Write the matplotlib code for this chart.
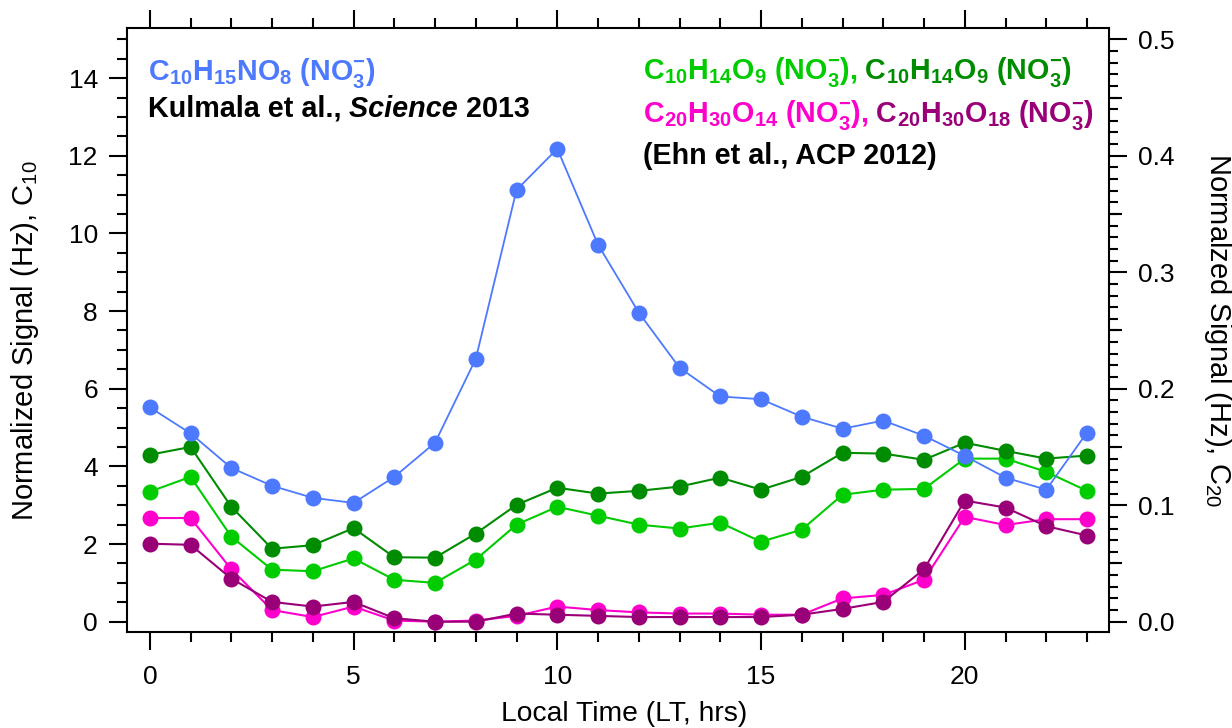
import matplotlib
matplotlib.use("Agg")
import matplotlib.pyplot as plt
from matplotlib.ticker import MultipleLocator, FixedLocator, NullFormatter, FormatStrFormatter

# ---- data: hourly median signals -------------------------------------------
hours = list(range(24))

# C10 species (left axis, Hz)
c10h15no8 = [5.52, 4.85, 3.96, 3.50, 3.19, 3.06, 3.73, 4.61, 6.77, 11.12, 12.18, 9.71,
             7.96, 6.54, 5.80, 5.73, 5.28, 4.97, 5.18, 4.79, 4.27, 3.71, 3.40, 4.87]
c10h14o9_a = [3.35, 3.73, 2.19, 1.34, 1.30, 1.63, 1.08, 1.00, 1.60, 2.50, 2.96, 2.73,
              2.50, 2.40, 2.55, 2.06, 2.37, 3.27, 3.40, 3.42, 4.20, 4.20, 3.86, 3.37]
c10h14o9_b = [4.30, 4.50, 2.96, 1.88, 1.97, 2.41, 1.66, 1.65, 2.27, 3.01, 3.45, 3.30,
              3.37, 3.48, 3.71, 3.40, 3.73, 4.35, 4.33, 4.17, 4.61, 4.40, 4.20, 4.28]

# C20 dimers (right axis, Hz)
c20h30o14 = [0.089, 0.089, 0.045, 0.010, 0.004, 0.013, 0.001, 0.000, 0.001, 0.005, 0.013, 0.010,
             0.008, 0.007, 0.007, 0.006, 0.006, 0.020, 0.023, 0.036, 0.090, 0.083, 0.088, 0.088]
c20h30o18 = [0.067, 0.066, 0.037, 0.017, 0.013, 0.017, 0.003, 0.000, 0.000, 0.007, 0.006, 0.005,
             0.004, 0.004, 0.004, 0.004, 0.006, 0.011, 0.017, 0.045, 0.104, 0.098, 0.082, 0.074]

BLUE = "#4D79FF"
LGREEN = "#00CC00"
DGREEN = "#008C00"
PINK = "#FF00CC"
PURPLE = "#990077"

plt.rcParams["font.family"] = ["Liberation Sans", "DejaVu Sans"]
plt.rcParams["mathtext.fontset"] = "custom"
plt.rcParams["mathtext.rm"] = "Liberation Sans"
plt.rcParams["mathtext.it"] = "Liberation Sans:italic"
plt.rcParams["mathtext.bf"] = "Liberation Sans:bold"
plt.rcParams["axes.linewidth"] = 1.5

W, H = 1232, 728
fig = plt.figure(figsize=(W / 100, H / 100), dpi=100)
ax = fig.add_axes([127 / W, 96 / H, 982 / W, 604 / H])
ax2 = ax.twinx()

mk = dict(marker="o", markersize=11.5, markeredgewidth=0)
ax.plot(hours, c10h14o9_a, color=LGREEN, lw=1.5, **mk)
ax.plot(hours, c10h14o9_b, color=DGREEN, lw=1.5, **mk)
ax.plot(hours, c10h15no8, color=BLUE, lw=1.3, **mk)
ax2.plot(hours, c20h30o14, color=PINK, lw=1.5, **mk)
ax2.plot(hours, c20h30o18, color=PURPLE, lw=1.5, **mk)

ax.set_xlim(-0.56, 23.54)
ax.set_ylim(-0.265, 15.29)
ax2.set_ylim(-0.265 / 30, 15.29 / 30)

ax.xaxis.set_major_locator(MultipleLocator(5))
ax.xaxis.set_minor_locator(MultipleLocator(1))
ax.yaxis.set_major_locator(MultipleLocator(2))
ax.yaxis.set_minor_locator(MultipleLocator(0.5))
ax2.yaxis.set_major_locator(MultipleLocator(0.1))
ax2.yaxis.set_minor_locator(MultipleLocator(0.01))
ax2.yaxis.set_major_formatter(FormatStrFormatter("%.1f"))

ax.tick_params(which="both", direction="out", width=1.5, labelsize=19, top=True, labeltop=False)
ax.tick_params(which="major", length=13, pad=8)
ax.tick_params(which="minor", length=7)
ax.tick_params(axis="x", which="major", pad=11)
ax2.tick_params(which="both", direction="out", width=1.5, labelsize=19)
ax2.tick_params(which="major", length=13, pad=8)
ax2.tick_params(which="minor", length=6.5)

# intermediate ticks at the half-tenths of the right axis
ax3 = ax.twinx()
ax3.set_ylim(ax2.get_ylim())
ax3.yaxis.set_major_locator(FixedLocator([0.05, 0.15, 0.25, 0.35, 0.45]))
ax3.yaxis.set_major_formatter(NullFormatter())
ax3.tick_params(direction="out", width=1.5, length=9)
for s in ax3.spines.values():
    s.set_visible(False)
for s in ax2.spines.values():
    s.set_visible(False)
ax3.patch.set_visible(False)

ax.set_xlabel("Local Time (LT, hrs)", fontsize=20.3)
ax.xaxis.set_label_coords(0.506, -0.114)
ax.set_ylabel(r"Normalized Signal (Hz), C$_{10}$", fontsize=21)
ax.yaxis.set_label_coords(-0.0876, 0.482)
ax2.set_ylabel(r"Normalzed Signal (Hz), C$_{20}$", fontsize=21, rotation=270, va="bottom")
ax2.yaxis.set_label_coords(1.0947, 0.5)

# ---- annotation text, built from coloured runs on a shared baseline ----------
renderer = fig.canvas.get_renderer()


def text_runs(x, y, runs, size=20.7):
    px, py = ax.transAxes.transform((x, y))
    for s, color, style in runs:
        t = fig.text(px / W, py / H, s, color=color, fontsize=size, fontweight="bold",
                     fontstyle=style, ha="left", va="baseline")
        px = t.get_window_extent(renderer).x1


text_runs(0.021, 0.914, [(r"$\mathbf{C_{10}H_{15}NO_8\ (NO_3^{-})}$", BLUE, "normal")])
text_runs(0.021, 0.853, [("Kulmala et al.,", "black", "normal"),
                         (" Science", "black", "italic"),
                         (" 2013", "black", "normal")])
text_runs(0.525, 0.916, [(r"$\mathbf{C_{10}H_{14}O_9\ (NO_3^{-}),}$", LGREEN, "normal"),
                         (r"$\mathbf{\ C_{10}H_{14}O_9\ (NO_3^{-})}$", DGREEN, "normal")])
text_runs(0.525, 0.844, [(r"$\mathbf{C_{20}H_{30}O_{14}\ (NO_3^{-}),}$", PINK, "normal"),
                         (r"$\mathbf{\ C_{20}H_{30}O_{18}\ (NO_3^{-})}$", PURPLE, "normal")])
text_runs(0.525, 0.775, [("(Ehn et al., ACP 2012)", "black", "normal")])

fig.savefig("out.png", dpi=100)
